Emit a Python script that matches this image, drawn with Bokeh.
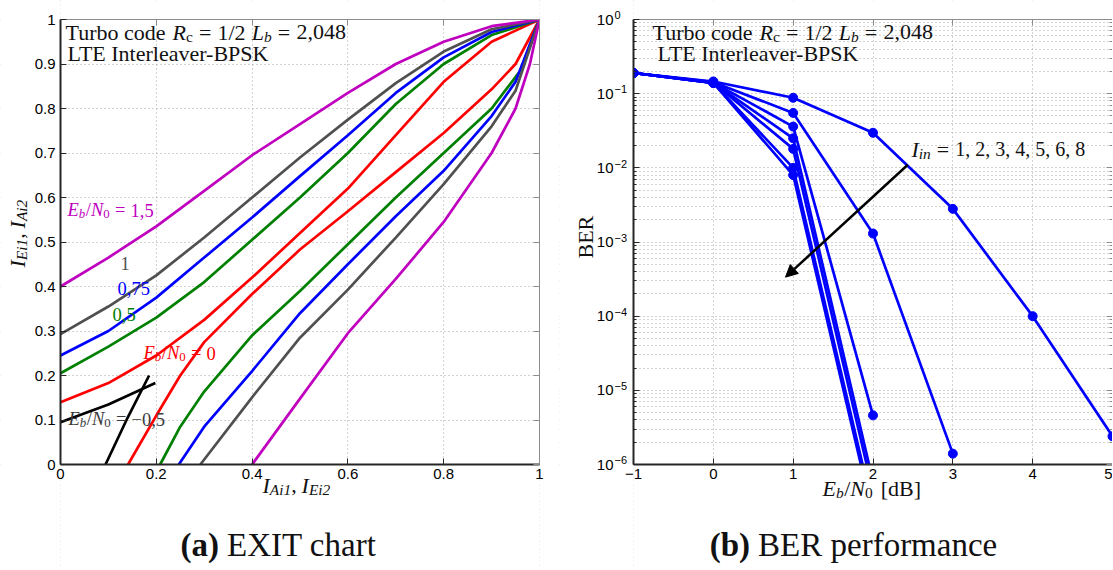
import math
from bokeh.plotting import figure
from bokeh.layouts import row
from bokeh.models import (FixedTicker, CustomJSTickFormatter, Label, Arrow, NormalHead,
                          LinearAxis, LogAxis, Range1d, BoxAnnotation)
from bokeh.embed import file_html
from bokeh.resources import INLINE

# ---------------- data: EXIT chart (a) ----------------
exit_snr = ["-0,5", "0", "0,5", "0,75", "1", "1,5"]
exit_colors = ["#000000", "#ff0000", "#008000", "#0000ff", "#505050", "#bf00bf"]

exit_x = [0.0, 0.1, 0.2, 0.3, 0.4, 0.5, 0.6, 0.7, 0.8, 0.9, 1.0]
dec1_m05_x = [0.0, 0.1, 0.198]
dec1_m05_y = [0.095, 0.135, 0.183]
dec1_0_y = [0.14, 0.183, 0.245, 0.325, 0.42, 0.52, 0.62, 0.74, 0.86, 0.95, 1.0]
dec1_05_y = [0.205, 0.265, 0.33, 0.41, 0.505, 0.60, 0.70, 0.81, 0.90, 0.965, 1.0]
dec1_075_y = [0.245, 0.30, 0.375, 0.465, 0.555, 0.648, 0.74, 0.835, 0.915, 0.972, 1.0]
dec1_1_y = [0.293, 0.355, 0.425, 0.51, 0.60, 0.69, 0.775, 0.857, 0.928, 0.978, 1.0]
dec1_15_y = [0.40, 0.465, 0.535, 0.615, 0.695, 0.765, 0.835, 0.90, 0.95, 0.985, 1.0]

dec2_m05_x = [0.094, 0.14, 0.185]
dec2_m05_y = [0.0, 0.105, 0.20]
dec2_0_x = [0.141, 0.2, 0.25, 0.3, 0.4, 0.5, 0.6, 0.7, 0.8, 0.9, 0.95, 1.0]
dec2_0_y = [0.0, 0.11, 0.20, 0.275, 0.383, 0.483, 0.569, 0.657, 0.745, 0.843, 0.90, 1.0]
dec2_05_x = [0.208, 0.25, 0.3, 0.4, 0.5, 0.6, 0.7, 0.8, 0.9, 0.96, 1.0]
dec2_05_y = [0.0, 0.085, 0.164, 0.29, 0.39, 0.495, 0.60, 0.70, 0.80, 0.885, 1.0]
dec2_075_x = [0.247, 0.3, 0.4, 0.5, 0.6, 0.7, 0.8, 0.9, 0.95, 1.0]
dec2_075_y = [0.0, 0.085, 0.21, 0.34, 0.45, 0.558, 0.66, 0.783, 0.86, 1.0]
dec2_1_x = [0.292, 0.4, 0.5, 0.6, 0.7, 0.8, 0.9, 0.95, 1.0]
dec2_1_y = [0.0, 0.151, 0.285, 0.393, 0.51, 0.63, 0.76, 0.84, 1.0]
dec2_15_x = [0.40, 0.5, 0.6, 0.7, 0.8, 0.9, 0.95, 0.98, 1.0]
dec2_15_y = [0.0, 0.148, 0.295, 0.417, 0.545, 0.70, 0.80, 0.90, 1.0]

# ---------------- data: BER performance (b) ----------------
iterations = [1, 2, 3, 4, 5, 6, 8]
ebn0_db = [-1, 0, 1, 2, 3, 4, 5]
ber_it1 = [0.19, 0.146, 0.088, 0.0297, 0.0028, 1.0e-4, 2.4e-6]
ber_it2 = [0.19, 0.143, 0.055, 1.3e-3, 1.4e-6]
ber_it3 = [0.19, 0.141, 0.036, 4.6e-6]
ber_it4 = [0.19, 0.14, 0.025, 5.9e-7]
ber_it5 = [0.19, 0.14, 0.018, 4.3e-7]
ber_it6 = [0.19, 0.14, 0.010, 2.5e-7]
ber_it8 = [0.19, 0.14, 0.008, 2.0e-7]

arrow_start = (2.436, 0.011)
arrow_end = (0.904, 3.36e-4)

exit_xticks = [0, 0.2, 0.4, 0.6, 0.8, 1]
exit_yticks = [0, 0.1, 0.2, 0.3, 0.4, 0.5, 0.6, 0.7, 0.8, 0.9, 1]
ber_xticks = [-1, 0, 1, 2, 3, 4, 5]
ber_yticks = [1e-6, 1e-5, 1e-4, 1e-3, 1e-2, 1e-1, 1]
ber_yminor = [m * 10.0 ** k for k in range(-6, 0) for m in range(2, 10)]

# ---------------- page layout (pixels) ----------------
H = 569
A_W = 559                   # canvas (a): page x 0..559
B_W = 553                   # canvas (b): page x 559..1112
A_BOX = (60, 539, 19, 464)  # left, right, top, bottom of plot box (a), page px
B_BOX = (633, 1112, 19, 464)
K_BASE = 0.38               # baseline correction of Label text (fraction of font size)

# ---------------- text width helper (Liberation Serif metrics) ----------------
REG = {' ': .25, ',': .25, '.': .25, '/': .278, '=': .564, '\u2212': .564, '-': .333,
       '(': .333, ')': .333, '[': .333, ']': .333,
       'A': .722, 'B': .667, 'C': .667, 'D': .722, 'E': .611, 'I': .333, 'K': .722, 'L': .611,
       'N': .722, 'P': .556, 'R': .667, 'S': .556, 'T': .611, 'X': .722,
       'a': .444, 'b': .5, 'c': .444, 'd': .5, 'e': .444, 'f': .333, 'h': .5, 'i': .278,
       'l': .278, 'm': .778, 'n': .5, 'o': .5, 'p': .5, 'r': .333, 's': .389, 't': .278,
       'u': .5, 'v': .5}
IT = {'A': .611, 'E': .611, 'I': .333, 'L': .556, 'N': .667, 'R': .611}
BOLD = {'(': .333, ')': .333, 'a': .5, 'b': .556}
SERIF = "Liberation Serif"
TXT = "#111111"


def tw(s, size, style):
    tbl = IT if "italic" in style else (BOLD if "bold" in style else {})
    return sum(tbl.get(ch, REG.get(ch, 0.5)) for ch in s) * size


def rich(p, ax, ay, ox, oy, segs, color, angle=0.0, align="left", font=SERIF):
    total = sum(tw(t, s, st) + g for t, s, st, dy, g in segs)
    pos = -total / 2 if align == "center" else 0.0
    corr = K_BASE * max(s for t, s, st, dy, g in segs)
    for t, s, st, dy, g in segs:
        pos += g
        if angle:
            xo, yo = ox - dy - corr, oy + pos
        else:
            xo, yo = ox + pos, oy + dy + corr
        p.add_layout(Label(x=ax, y=ay, x_offset=xo, y_offset=yo, text=t,
                           text_font=font, text_font_size=f"{s:.1f}px",
                           text_font_style=st, text_color=color, angle=angle,
                           text_align="left", text_baseline="alphabetic"))
        pos += tw(t, s, st)


def ebn0_segs(size, val):
    sub = size * 0.7
    d = -0.2 * size
    segs = [("E", size, "italic", 0, 0), ("b", sub, "italic", d, 0),
            ("/", size, "normal", 0, 0.5), ("N", size, "italic", 0, 0),
            ("0", sub, "normal", d, 0)]
    if val:
        segs += [("=", size, "normal", 0, 0.28 * size), (val, size, "normal", 0, 0.28 * size)]
    return segs


def title_segs(size):
    sub = size * 0.7
    d = -0.2 * size
    sp = 0.28 * size
    return [("Turbo code", size, "normal", 0, 0), ("R", size, "italic", 0, sp),
            ("c", sub, "normal", d, 0), ("=", size, "normal", 0, sp),
            ("1/2", size, "normal", 0, sp), ("L", size, "italic", 0, sp),
            ("b", sub, "italic", d, 0), ("=", size, "normal", 0, sp),
            ("2,048", size, "normal", 0, sp)]


def i_segs(size, s1, s2):
    sub = size * 0.7
    d = -0.2 * size
    return [("I", size, "italic", 0, 0), (s1, sub, "italic", d, 0),
            (",", size, "normal", 0, 0), ("I", size, "italic", 0, 0.22 * size),
            (s2, sub, "italic", d, 0)]


GRID = "#a6a6a6"
AXC = "#262626"
EDGE = "#8c8c8c"

LIN_FMT = "if (Math.abs(tick) < 1e-9) return '0'; if (Math.abs(tick-1) < 1e-9) return '1'; return tick.toFixed(1);"
INT_FMT = "const v = Math.round(tick); return v < 0 ? '\u2212' + Math.abs(v) : String(v);"
LOG_FMT = "return '10';"


def add_axis(p, cls, place, loc, bounds, ticks, minor, fmt, standoff=5):
    show = fmt is not None
    ax = cls(fixed_location=loc, bounds=bounds,
             ticker=FixedTicker(ticks=ticks, minor_ticks=minor),
             formatter=CustomJSTickFormatter(code=fmt if show else "return ''"))
    ax.level = "overlay"
    ax.major_tick_in = 6
    ax.major_tick_out = 0
    ax.minor_tick_in = 3
    ax.minor_tick_out = 0
    ax.major_label_standoff = standoff
    ax.major_label_text_font = "Liberation Sans"
    ax.major_label_text_font_size = "15px" if show else "0px"
    ax.major_label_text_color = "#000000"
    col = AXC if show else EDGE
    ax.axis_line_color = col
    ax.axis_line_width = 2 if show else 1
    ax.major_tick_line_color = col
    ax.minor_tick_line_color = col
    ax.major_tick_line_width = 1
    p.add_layout(ax, place)
    return ax


def make_fig(width, box, left0, x0, x1, y0, y1, log):
    bl, br, bt, bb = box
    sx = (x1 - x0) / (br - bl)
    xs = x0 + (left0 - bl) * sx
    xe = x0 + (left0 + width - bl) * sx
    if log:
        ly0, ly1 = math.log10(y0), math.log10(y1)
        sy = (ly1 - ly0) / (bb - bt)
        ys = 10 ** (ly0 - (H - bb) * sy)
        ye = 10 ** (ly1 + bt * sy)
    else:
        sy = (y1 - y0) / (bb - bt)
        ys = y0 - (H - bb) * sy
        ye = y1 + bt * sy
    p = figure(width=width, height=H, x_range=Range1d(xs, xe), y_range=Range1d(ys, ye),
               y_axis_type="log" if log else "linear",
               x_axis_location=None, y_axis_location=None,
               output_backend="svg", toolbar_location=None, min_border=0)
    p.background_fill_color = "white"
    p.border_fill_color = "white"
    p.outline_line_color = None
    return p, (xs, xe, ys, ye)


def style_grids(p, xt, yt, yminor=None):
    for g in p.xgrid:
        g.ticker = FixedTicker(ticks=xt)
        g.grid_line_color = GRID
        g.grid_line_dash = "1 3"
        g.grid_line_width = 1
    for g in p.ygrid:
        g.ticker = FixedTicker(ticks=yt, minor_ticks=yminor or [])
        g.grid_line_color = GRID
        g.grid_line_dash = "1 3"
        g.grid_line_width = 1
        if yminor:
            g.minor_grid_line_color = GRID
            g.minor_grid_line_dash = "1 3"


def masks(p, rng, x0, x1, y0, y1):
    xs, xe, ys, ye = rng
    for l, r, b, t in ((xs, x0, ys, ye), (x1, xe, ys, ye), (x0, x1, ys, y0), (x0, x1, y1, ye)):
        p.add_layout(BoxAnnotation(left=l, right=r, bottom=b, top=t, fill_color="white",
                                   fill_alpha=1, line_alpha=0))
    p.add_layout(BoxAnnotation(left=x0, right=x1, bottom=y0, top=y1, fill_alpha=0,
                               line_color=EDGE, line_width=1))


LW = 2.7

# ---------------- figure (a) ----------------
pA, rngA = make_fig(A_W, A_BOX, 0, 0.0, 1.0, 0.0, 1.0, False)
style_grids(pA, exit_xticks, exit_yticks)

dec1_sets = [(dec1_m05_x, dec1_m05_y), (exit_x, dec1_0_y), (exit_x, dec1_05_y),
             (exit_x, dec1_075_y), (exit_x, dec1_1_y), (exit_x, dec1_15_y)]
dec2_sets = [(dec2_m05_x, dec2_m05_y), (dec2_0_x, dec2_0_y), (dec2_05_x, dec2_05_y),
             (dec2_075_x, dec2_075_y), (dec2_1_x, dec2_1_y), (dec2_15_x, dec2_15_y)]
for (x1, y1), (x2, y2), col in zip(dec1_sets, dec2_sets, exit_colors):
    pA.line(x1, y1, line_color=col, line_width=LW)
    pA.line(x2, y2, line_color=col, line_width=LW)

masks(pA, rngA, 0.0, 1.0, 0.0, 1.0)
add_axis(pA, LinearAxis, "left", 0.0, (0.0, 1.0), exit_yticks, [], LIN_FMT)
add_axis(pA, LinearAxis, "below", 0.0, (0.0, 1.0), exit_xticks, [], LIN_FMT, standoff=4)
add_axis(pA, LinearAxis, "right", 1.0, (0.0, 1.0), exit_yticks, [], None)
add_axis(pA, LinearAxis, "above", 1.0, (0.0, 1.0), exit_xticks, [], None)


def offA(X, Y):
    return X - A_BOX[0], A_BOX[3] - Y


rich(pA, 0, 0, *offA(65, 40), title_segs(22), TXT)
rich(pA, 0, 0, *offA(67, 61), [("LTE Interleaver-BPSK", 22, "normal", 0, 0)], TXT)
LS = 18.5
rich(pA, 0, 0, *offA(67, 217), ebn0_segs(LS, exit_snr[5]), exit_colors[5])
rich(pA, 0, 0, *offA(120, 270), [(exit_snr[4], LS, "normal", 0, 0)], exit_colors[4])
rich(pA, 0, 0, *offA(117, 295), [(exit_snr[3], LS, "normal", 0, 0)], exit_colors[3])
rich(pA, 0, 0, *offA(112, 321), [(exit_snr[2], LS, "normal", 0, 0)], exit_colors[2])
rich(pA, 0, 0, *offA(143, 360), ebn0_segs(LS, exit_snr[1]), exit_colors[1])
rich(pA, 0, 0, *offA(68, 426), ebn0_segs(LS, exit_snr[0].replace("-", "\u2212")), "#3a3a3a")
rich(pA, 0, 0, *offA(25, 267), i_segs(22, "Ei1", "Ai2"), TXT, angle=math.pi / 2)
rich(pA, 0, 0, *offA(262, 493), i_segs(22, "Ai1", "Ei2"), TXT)
rich(pA, 0, 0, *offA(278, 557), [("(a)", 33, "bold", 0, 0), ("EXIT chart", 33, "normal", 0, 8)],
     TXT, align="center")

# ---------------- figure (b) ----------------
pB, rngB = make_fig(B_W, B_BOX, A_W, -1.0, 5.0, 1e-6, 1.0, True)
style_grids(pB, ber_xticks, ber_yticks, ber_yminor)

BLUE = "#0000ff"
for ys in (ber_it1, ber_it2, ber_it3, ber_it4, ber_it5, ber_it6, ber_it8):
    xs = ebn0_db[:len(ys)]
    pB.line(xs, ys, line_color=BLUE, line_width=LW)
    pB.scatter(xs, ys, size=9, marker="circle", fill_color=BLUE, line_color=BLUE)

masks(pB, rngB, -1.0, 5.0, 1e-6, 1.0)
add_axis(pB, LogAxis, "left", -1.0, (1e-6, 1.0), ber_yticks, ber_yminor, LOG_FMT, standoff=20)
add_axis(pB, LinearAxis, "below", 1e-6, (-1.0, 5.0), ber_xticks, [], INT_FMT, standoff=4)
add_axis(pB, LogAxis, "right", 5.0, (1e-6, 1.0), ber_yticks, ber_yminor, None)
add_axis(pB, LinearAxis, "above", 1.0, (-1.0, 5.0), ber_xticks, [], None)

# exponents of the log tick labels (10^k)
for t in ber_yticks:
    e = round(math.log10(t))
    etxt = ("\u2212" + str(-e)) if e < 0 else str(e)
    rich(pB, -1.0, t, -19, 0, [(etxt, 11, "normal", 0, 0)], "#000000",
         font="Liberation Sans")

pB.add_layout(Arrow(end=NormalHead(size=12, fill_color="black", line_color="black"),
                    x_start=arrow_start[0], y_start=arrow_start[1],
                    x_end=arrow_end[0], y_end=arrow_end[1],
                    line_color="black", line_width=2.5))


def offB(X, Y):
    return X - B_BOX[0], B_BOX[3] - Y


rich(pB, -1, 1e-6, *offB(652, 40), title_segs(22), TXT)
rich(pB, -1, 1e-6, *offB(657, 61), [("LTE Interleaver-BPSK", 22, "normal", 0, 0)], TXT)
rich(pB, -1, 1e-6, *offB(911, 157),
     [("I", 22, "italic", 0, 0), ("in", 15.4, "italic", -4.4, 0),
      ("=", 22, "normal", 0, 6), ("1, 2, 3, 4, 5, 6, 8", 20, "normal", 0, 6)], TXT)
rich(pB, -1, 1e-6, *offB(593, 258), [("BER", 22, "normal", 0, 0)], TXT, angle=math.pi / 2)
rich(pB, -1, 1e-6, *offB(822, 496), ebn0_segs(22, "") + [("[dB]", 22, "normal", 0, 8)], TXT)
rich(pB, -1, 1e-6, *offB(853, 557),
     [("(b)", 33, "bold", 0, 0), ("BER performance", 33, "normal", 0, 8)],
     TXT, align="center")

layout = row(pA, pB)
open("out.html", "w").write(file_html(layout, INLINE))
